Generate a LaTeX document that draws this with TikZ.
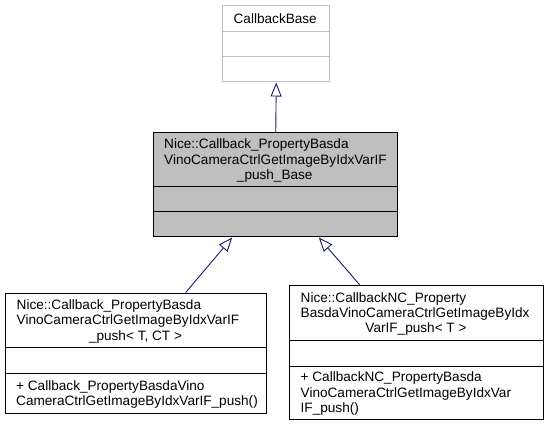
\documentclass[tikz,border=0pt]{standalone}
\usepackage{fontspec}
\setmainfont{Liberation Sans}
\usetikzlibrary{arrows.meta,calc}
\definecolor{greyseventyfive}{RGB}{191,191,191}
\definecolor{edgeblue}{RGB}{25,25,112}
\tikzset{
  cell/.style={draw, line width=1pt, inner sep=0pt, anchor=north west},
  undoc/.style={cell, draw=greyseventyfive},
  focus/.style={cell, draw=black, fill=greyseventyfive},
  plain/.style={cell, draw=black, fill=white},
  txt/.style={inner sep=0pt, font=\fontsize{13.6}{15.3}\selectfont},
  tl/.style={txt, anchor=base west},
  tc/.style={txt, anchor=base},
  inherit/.style={draw=edgeblue, line width=0.9pt, -{Triangle[open, length=14pt, width=11pt, fill=white]}}
}
\newcommand{\cellat}[6]{% style, name, x, y, w, h
  \node[#1, minimum width=#5pt, minimum height=#6pt] (#2) at (#3,#4) {};}
\begin{document}
\begin{tikzpicture}[x=1pt, y=-1pt]
\useasboundingbox (0,0) rectangle (547,427);
\fill[white] (0,0) rectangle (547,427);
% CallbackBase
\cellat{undoc}{baseh}{221.5}{5.5}{107.5}{26}
\cellat{undoc}{basea}{221.5}{31.5}{107.5}{25}
\cellat{undoc}{basem}{221.5}{56.5}{107.5}{25}
\node[tc] (basetitle) at (275.25,23.3) {CallbackBase};
% middle class
\cellat{focus}{midh}{152.5}{132.5}{244.5}{53.5}
\cellat{focus}{mida}{152.5}{186}{244.5}{25}
\cellat{focus}{midm}{152.5}{211}{244.5}{25.5}
\node[tl] (midt1) at (164,148.8) {Nice::Callback\_PropertyBasda};
\node[tl] (midt2) at (164,164.1) {VinoCameraCtrlGetImageByIdxVarIF};
\node[tc] (midt3) at (274.75,179.4) {\_push\_Base};
% left class
\cellat{plain}{lefth}{5}{292.7}{261}{54.8}
\cellat{plain}{lefta}{5}{347.5}{261}{25.5}
\cellat{plain}{leftm}{5}{373}{261}{40}
\node[tl] (leftt1) at (16.5,309.6) {Nice::Callback\_PropertyBasda};
\node[tl] (leftt2) at (16.5,324.9) {VinoCameraCtrlGetImageByIdxVarIF};
\node[tc] (leftt3) at (135.5,340.2) {\_push< T, CT >};
\node[tl] (leftm1) at (16,390.1) {+ Callback\_PropertyBasdaVino};
\node[tl] (leftm2) at (16,405.4) {CameraCtrlGetImageByIdxVarIF\_push()};
% right class
\cellat{plain}{righth}{289}{285}{254}{55.5}
\cellat{plain}{righta}{289}{340.5}{254}{25.5}
\cellat{plain}{rightm}{289}{366}{254}{53}
\node[tl] (rightt1) at (300.5,302.3) {Nice::CallbackNC\_Property};
\node[tl] (rightt2) at (300.5,317.6) {BasdaVinoCameraCtrlGetImageByIdx};
\node[tc] (rightt3) at (416,332.9) {VarIF\_push< T >};
\node[tl] (rightm1) at (300.5,382) {+ CallbackNC\_PropertyBasda};
\node[tl] (rightm2) at (300.5,397.3) {VinoCameraCtrlGetImageByIdxVar};
\node[tl] (rightm3) at (300.5,412.6) {IF\_push()};
% inheritance
\draw[inherit] ([xshift=0.5pt]midh.north) -- ([xshift=0.5pt]basem.south);
\draw[inherit] ([xshift=49.5pt]lefth.north) -- ([xshift=-43pt]midm.south);
\draw[inherit] ([xshift=-56.7pt]righth.north) -- ([xshift=43.6pt]midm.south);
\end{tikzpicture}
\end{document}
